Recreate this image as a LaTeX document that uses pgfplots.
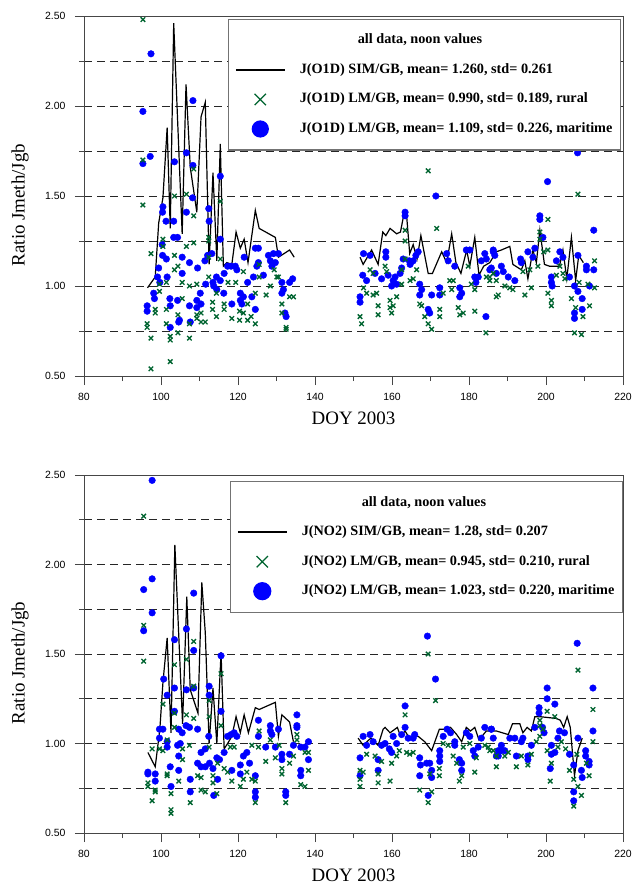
\documentclass[border=0pt]{standalone}
\usepackage{pgfplots}
\pgfplotsset{compat=1.18}
\usepackage{fontspec}
\setmainfont{Liberation Serif}
\setsansfont{Liberation Sans}
\definecolor{rural}{RGB}{0,100,48}
\definecolor{mari}{RGB}{0,0,255}
\definecolor{axgray}{RGB}{70,70,70}

\pgfplotsset{
  myaxis/.style={
    scale only axis, width=539bp,
    xmin=80, xmax=220, ymin=0.5, ymax=2.5,
    xtick={80,100,...,220}, minor xtick={90,110,...,210},
    ytick={0.5,1,...,2.5}, minor ytick={0.75,1.25,...,2.25},
    ymajorgrids, yminorgrids,
    major grid style={black!85, dash pattern=on 8bp off 5bp, line width=0.8bp},
    minor grid style={black!85, dash pattern=on 8bp off 5bp, line width=0.8bp},
    tick align=outside, tick pos=left,
    major tick length=9bp, minor tick length=5bp,
    every tick/.style={axgray, line width=0.8bp},
    axis line style={axgray, line width=0.9bp},
    tick label style={font=\sffamily\fontsize{10.5}{12}\selectfont, /pgf/number format/assume math mode=true},
    xticklabel style={yshift=-5bp},
    y tick label style={xshift=-6bp, /pgf/number format/.cd, fixed, fixed zerofill, precision=2},
    xlabel={DOY 2003}, ylabel={Ratio Jmeth/Jgb},
    every axis y label/.style={at={(axis description cs:-0.1187,0.475)}, rotate=90, anchor=center, font=\fontsize{19}{22}\selectfont},
    every axis x label/.style={at={(axis description cs:0.5,-0.117)}, anchor=center, font=\fontsize{19}{22}\selectfont},
    legend cell align=left,
    legend style={anchor=north east, draw=black!55, line width=1.2bp, fill=white,
      font=\bfseries\fontsize{14.3}{16}\selectfont,
      inner xsep=6bp, inner ysep=12bp, row sep=11.5bp, column sep=12bp,
      nodes={text height=10.5bp, text depth=3.5bp, inner sep=2bp}},
  },
  simline/.style={black, line width=1.2bp, no marks},
  ruralmk/.style={only marks, mark=x, mark size=3.2bp, rural, line width=1.35bp},
  marimk/.style={only marks, mark=*, mark size=3.3bp, mari, mark options={fill=mari, draw=mari}},
  legline/.style={legend image code/.code={\draw[##1] (0bp,0bp) -- (49bp,0bp);}},
  legmark/.style={legend image code/.code={\draw[##1] plot coordinates {(24.5bp,0bp)};}},
}

\begin{document}
\begin{tikzpicture}
%%%%%%%%%%%%%%%%%%%% TOP PANEL: J(O1D)
\begin{axis}[myaxis, height=360bp, at={(0bp,0bp)}, anchor=north west,
  legend style={at={(axis description cs:0.9963,0.992)}}]
\addplot[marimk, forget plot] coordinates {
(95.3,1.97)(97.4,2.29)(95.3,1.68)(97.2,1.72)(108.3,2.03)(106.6,1.74)(103.5,1.69)(108.3,1.67)(115.4,1.61)(100.5,1.44)(100.4,1.41)(101.3,1.36)(103.3,1.36)(106.6,1.41)(108.2,1.49)(112.4,1.43)(112.5,1.36)(115.4,1.26)(103.3,1.27)(104.3,1.27)(105.5,1.16)(100.4,1.17)(101.4,1.15)(107.4,1.13)(109.5,1.10)(111.4,1.14)(112.1,1.17)(113.2,1.18)(99.4,1.10)(99.1,1.05)(99.7,1.02)(101.6,1.05)(105.5,1.07)(98.1,0.96)(98.3,0.93)(96.4,0.89)(96.4,0.86)(102.3,0.93)(104.3,0.92)(102.4,0.89)(107.4,0.89)(109.3,0.92)(110.2,0.96)(109.3,0.88)(110.4,0.90)(111.6,1.01)(113.5,1.02)(114.4,1.05)(115.4,1.03)(116.4,1.07)(117.3,1.11)(118.2,1.11)(119.3,1.11)(119.7,1.09)(120.6,0.96)(121.4,0.94)(122.5,1.02)(123.6,0.94)(120.6,0.92)(121,0.90)(118.4,0.90)(121.6,1.16)(124.9,1.11)(125.3,1.21)(104.6,0.80)(102.4,0.77)(107.6,0.80)(113.7,1.00)(114.5,0.98)(116.3,0.96)(127.9,1.17)(128.4,1.14)(129.2,1.18)(129.7,1.13)(128.8,1.11)(130.5,1.18)(131.4,1.02)(131.8,0.98)(131.4,0.96)(132.2,0.85)(132.5,0.83)(133.4,1.02)(134.2,1.04)(124.5,1.21)(125.3,1.13)(126.6,1.06)(124.0,1.05)(124.5,0.87)(104.8,0.81)(100.3,1.23)
(171.4,1.50)(163.4,1.41)(163.4,1.39)(158.4,1.19)(158.4,1.16)(154.3,1.17)(152.6,1.18)(155.6,1.07)(157.3,1.04)(159.0,1.06)(160.3,1.03)(162.1,1.07)(162.5,1.10)(164.5,1.14)(164.7,1.12)(165.5,1.14)(166.2,1.17)(166.8,1.19)(152.4,1.06)(153.4,1.03)(151.7,0.94)(151.7,0.91)(159.9,1.00)(161.2,1.01)(160.8,1.05)(167.2,1.01)(167.7,0.98)(167.2,0.95)(170.3,0.95)(169.4,0.87)(169.8,0.85)(172.4,0.99)(172.4,0.95)(174.2,1.18)(174.6,1.14)(176.3,1.11)(177.6,0.99)(178.1,0.96)(177.6,0.94)(179.3,1.20)(180.2,1.20)(181.5,1.05)(182.4,1.05)(181.8,1.02)(183.2,1.14)(184.1,1.18)(184.5,1.15)(184.4,0.83)(185.4,1.09)(186.3,1.19)(186.7,1.17)(187.1,1.07)(162.9,1.15)
(200.4,1.58)(212.4,1.31)(198.4,1.39)(198.4,1.37)(199.2,1.27)(186.3,1.20)(185.8,1.10)(188.4,1.11)(188.9,1.08)(190.2,1.05)(191.9,1.03)(193.4,1.15)(193.6,1.13)(195.3,1.19)(197.1,1.21)(196.6,1.16)(201.4,1.05)(201.4,1.02)(201.6,1.00)(202.7,1.14)(203.6,1.19)(204.4,1.16)(206.1,1.05)(207.4,1.00)(208.3,0.97)(209.4,0.93)(208.3,1.17)(210.5,1.11)(210.5,1.09)(212.4,1.09)(207.4,0.85)(207.4,0.82)(209.4,0.87)(211.3,1.00)(208.2,1.74)
};
\addplot[ruralmk, forget plot] coordinates {
(95.3,2.48)(95.3,1.70)(95.3,1.45)(97.4,1.18)(96.4,0.79)(96.4,0.77)(97.4,0.71)(97.4,0.54)(98.5,0.87)(98.5,0.85)(99.6,1.01)(99.6,0.97)(100.5,1.26)(100.5,1.22)(101.4,1.02)(101.4,0.87)(101.4,0.79)(102.4,0.72)(102.4,0.70)(102.4,0.58)(103.5,1.17)(103.5,1.50)(103.5,1.09)(104.4,1.11)(104.4,0.84)(104.4,0.74)(105.5,1.02)(105.5,0.93)(106.6,1.51)(106.6,1.22)(107.4,1.00)(107.4,0.79)(107.4,0.71)(108.5,1.65)(108.5,1.39)(108.5,1.24)(109.3,1.01)(109.3,0.84)(109.3,0.82)(110.4,0.80)(110.4,0.85)(111.5,0.80)(112.4,1.27)(112.4,1.25)(112.4,1.16)(112.4,1.05)(113.4,0.91)(113.4,0.87)(114.4,0.96)(114.4,0.83)(115.4,1.47)(115.4,1.15)(116.4,0.90)(116.4,0.87)(117.4,1.02)(118.4,0.82)(119.4,1.02)(120.4,0.81)(120.4,0.86)(121.4,1.08)(121.4,0.85)(122.5,0.90)(122.5,0.81)(123.4,0.83)(124.5,0.79)(124.5,0.96)(125.5,1.12)(125.5,1.05)(127.3,0.95)(128.4,1.00)(129.4,1.09)(130.1,1.05)(130.5,1.05)(131.4,0.90)(131.4,0.85)(132.5,0.77)(132.5,0.76)(133.4,0.94)(134.4,0.94)
(169.4,1.64)(171.6,1.32)(163.4,1.31)(163.4,1.25)(163.4,1.15)(154.3,1.09)(155.1,1.07)(158.2,1.11)(158.6,1.08)(162.5,1.09)(166.4,1.09)(164.7,1.03)(165.5,1.04)(162.5,1.01)(152.6,0.99)(153.4,0.96)(155.1,0.95)(156.0,0.96)(156.4,0.89)(156.4,0.84)(159.5,0.92)(159.5,0.88)(159.9,0.85)(160.3,0.89)(161.2,0.94)(151.7,0.83)(152.1,0.79)(167.2,0.90)(167.7,0.89)(168.5,0.83)(169.4,0.79)(170.3,0.76)(172.4,0.87)(172.4,0.83)(173.3,0.96)(175.0,1.03)(175.9,1.03)(175.5,0.98)(177.2,0.88)(177.6,0.84)(178.5,0.85)(179.8,1.11)(180.6,1.01)(181.5,0.98)(184.4,0.74)(181.5,0.86)(184.5,1.05)(185.4,1.03)(186.3,1.07)(187.1,0.94)
(208.3,1.51)(200.5,1.37)(198.4,1.30)(198.4,1.26)(199.4,1.19)(200.5,1.20)(212.6,1.14)(212.6,0.99)(202.7,1.06)(203.6,1.11)(204.4,1.07)(204.9,1.04)(200.5,0.96)(201.4,0.92)(201.4,0.89)(206.6,0.93)(207.7,0.88)(209.6,0.83)(211.3,0.89)(207.4,0.74)(209.2,0.73)(185.4,1.05)(187.1,1.03)(189.3,1.00)(190.6,0.99)(187.6,0.95)(191.4,0.98)(194.5,0.95)(196.2,0.99)(195.8,1.09)(194.0,1.08)(197.9,1.11)(208.6,1.02)(210.9,1.01)
};
\addplot[simline, forget plot] coordinates {
(96.5,0.99)(98.5,1.05)(99.4,1.35)(100.5,1.49)(101.6,1.88)(102.4,1.32)(103.3,2.46)(105.5,1.29)(106.5,2.12)(107.6,1.66)(109.3,1.41)(110.4,1.94)(111.5,2.02)(112.5,1.12)(113.5,1.63)(114.5,1.14)(115.4,1.79)(116.2,1.11)(117.1,1.13)(118.4,1.12)(119.5,1.30)(120.6,1.21)(121.6,1.26)(122.6,1.13)(124.5,1.42)(125.5,1.32)(129.7,1.27)(130.5,1.16)(133.4,1.20)(134.6,1.16)
};
\addplot[simline, forget plot] coordinates {
(151.7,1.16)(152.5,1.12)(154.7,1.20)(156.4,1.12)(157.6,1.30)(158.4,1.28)(159.5,1.32)(161.2,1.29)(162.2,1.30)(163.1,1.40)(163.8,1.39)(164.6,1.18)(165.5,1.23)(166.5,1.15)(167.5,1.28)(169.4,1.07)(170.5,1.07)(172.9,1.19)(174.2,1.13)(175.5,1.29)(176.6,1.13)(177.9,1.07)(179.4,1.20)(180.2,1.11)(181.5,1.27)(182.6,1.06)(183.8,1.11)(185.4,1.13)(187.1,1.19)(188.4,1.20)(189.5,1.21)(190.6,1.22)(191.4,1.12)(193.6,1.09)(194.5,1.14)(195.3,1.04)(196.6,1.20)(197.5,1.13)(198.4,1.31)(199.6,1.12)(200.9,1.11)(203.5,1.11)(204.4,1.20)(205.4,1.04)(206.6,1.27)(207.7,1.03)(208.5,1.17)(209.7,1.13)
};
\addlegendimage{empty legend}
\addlegendentry{\hspace*{58bp}all data, noon values}
\addlegendimage{black, line width=2bp, legline}
\addlegendentry{J(O1D) SIM/GB, mean= 1.260, std= 0.261}
\addlegendimage{rural, mark=x, only marks, mark size=8bp, line width=1.2bp, legmark}
\addlegendentry{J(O1D) LM/GB, mean= 0.990, std= 0.189, rural}
\addlegendimage{mari, mark=*, only marks, mark size=8bp, mark options={fill=mari}, legmark}
\addlegendentry{J(O1D) LM/GB, mean= 1.109, std= 0.226, maritime}
\end{axis}
%%%%%%%%%%%%%%%%%%%% BOTTOM PANEL: J(NO2)
\begin{axis}[myaxis, height=358bp, at={(0bp,-459bp)}, anchor=north west,
  legend style={at={(axis description cs:1.0,0.983)}}]
\addplot[marimk, forget plot] coordinates {
(97.7,2.47)(95.5,1.86)(97.7,1.92)(97.7,1.73)(95.5,1.63)(100.7,1.36)(101.6,1.27)(103.5,1.58)(103.5,1.31)(103.5,1.18)(106.6,1.64)(106.6,1.30)(108.5,1.84)(108.5,1.52)(108.5,1.31)(112.5,1.32)(112.5,1.27)(115.6,1.49)(115.6,1.18)(112.4,1.04)(99.6,1.08)(100.5,1.08)(101.6,0.98)(101.6,1.01)(99.6,1.03)(104.6,1.08)(105.5,1.06)(104.3,0.99)(105.0,1.00)(106.5,1.10)(107.4,1.09)(109.5,1.08)(104.6,0.93)(102.4,0.87)(102.6,0.76)(96.6,0.84)(96.6,0.83)(98.5,0.83)(98.5,0.79)(104.6,0.85)(107.6,0.80)(107.6,0.73)(109.5,0.89)(110.4,0.87)(111.5,0.87)(112.6,0.89)(113.5,0.86)(113.7,0.71)(114.7,0.80)(114.5,0.92)(115.2,0.91)(116.4,0.95)(117.3,1.04)(118.2,1.05)(119.0,1.06)(119.7,1.04)(120.6,0.88)(121.4,0.93)(122.3,0.95)(123.0,0.89)(124.5,0.82)(124.5,0.73)(124.5,0.70)(125.3,1.13)(125.3,1.04)(110.4,0.95)(111.5,0.97)(118.4,0.85)(120.6,0.83)
(127.2,0.98)(128.4,1.10)(128.4,1.07)(128.8,1.05)(129.7,0.98)(130.5,1.08)(131.4,0.94)(131.4,0.91)(132.4,0.73)(132.4,0.71)(133.4,0.94)(135.3,1.16)(135.3,1.10)(135.3,1.09)(136.3,0.98)(136.3,0.85)(136.3,0.82)(137.4,0.98)(138.3,1.01)(138.3,0.91)(134.4,0.99)
(169.2,1.60)(171.3,1.36)(163.4,1.21)(163.4,1.09)(152.5,1.04)(151.7,0.92)(151.7,0.82)(154.3,1.05)(155.1,1.01)(156.4,0.91)(156.4,0.85)(157.3,0.99)(158.2,1.00)(159.3,0.97)(159.9,0.95)(161.2,1.00)(162.5,1.05)(164.2,1.03)(165.5,1.03)(165.9,1.05)(167.2,0.92)(167.4,0.88)(167.2,0.82)(169.0,0.89)(169.8,0.89)(170.3,0.85)(170.3,0.81)(169.4,0.71)(172.4,0.96)(172.4,0.93)(172.4,0.90)(173.3,1.04)(174.3,1.08)(175.2,1.06)(176.3,1.01)(176.3,0.99)(177.5,0.91)(178.1,0.89)(178.1,0.85)(179.3,1.06)(180.2,1.04)(181.1,0.96)(181.5,0.93)(182.4,0.98)(183.2,1.03)(184.1,1.09)(185.8,1.08)(187.6,0.96)(187.6,0.93)(153.4,0.99)(160.3,1.04)
(208.1,1.56)(212.2,1.31)(200.3,1.31)(200.3,1.25)(202.3,1.22)(198.2,1.20)(198.2,1.17)(197.1,1.09)(199.1,1.09)(199.5,1.06)(212.2,1.07)(208.3,1.03)(185.8,1.08)(186.3,1.03)(188.4,0.99)(189.3,0.96)(190.6,1.03)(191.9,1.03)(192.3,0.93)(193.6,1.01)(194.0,1.03)(195.3,0.93)(195.3,0.91)(196.2,0.99)(201.4,0.99)(201.4,0.94)(201.1,0.86)(202.3,0.95)(203.1,1.03)(203.5,1.07)(204.8,1.06)(206.1,0.94)(207.2,0.88)(207.2,0.73)(207.2,0.68)(209.2,0.85)(209.4,0.81)(210.3,0.96)(210.3,0.93)(211.2,0.90)(211.2,0.88)(187.1,0.93)(188.4,0.96)
};
\addplot[ruralmk, forget plot] coordinates {
(95.5,2.27)(95.5,1.66)(95.5,1.46)(97.7,0.97)(96.6,0.78)(96.6,0.76)(97.7,0.68)(98.5,0.74)(98.5,0.73)(99.6,0.97)(100.5,1.22)(100.5,0.96)(101.6,1.02)(101.6,0.83)(101.6,0.82)(102.6,0.72)(102.6,0.63)(102.6,0.61)(103.5,1.44)(103.5,1.17)(103.5,1.09)(104.6,0.79)(105.6,0.91)(105.6,0.97)(106.6,1.47)(106.6,1.16)(107.4,0.99)(107.6,0.67)(108.5,1.57)(108.5,1.32)(108.5,1.14)(109.5,0.82)(110.4,0.81)(110.4,0.74)(111.5,0.73)(112.5,1.24)(112.5,1.15)(112.5,0.98)(113.5,0.82)(113.5,0.78)(114.5,0.72)(115.6,1.39)(115.6,1.10)(114.7,0.89)(116.4,0.86)(117.3,0.84)(118.0,0.98)(119.0,0.98)(118.4,0.79)(120.6,0.76)(121.4,0.80)(122.3,0.84)(123.6,0.80)(124.5,0.67)(124.5,0.79)(125.3,0.98)(123.6,0.99)
(125.5,1.07)(127.2,0.90)(128.4,1.02)(129.7,0.92)(130.7,0.99)(131.4,0.83)(131.4,0.86)(132.4,0.67)(133.4,0.89)(134.4,0.93)(135.3,1.05)(135.3,1.02)(136.3,0.77)(137.4,0.76)(137.4,0.95)(138.3,0.95)(138.3,0.85)
(169.4,1.50)(171.3,1.24)(163.4,1.16)(151.7,0.85)(151.7,0.80)(151.7,0.76)(152.5,0.84)(153.4,0.94)(155.6,0.93)(156.4,0.83)(156.4,0.78)(157.3,0.90)(159.5,0.79)(159.9,0.89)(161.2,0.93)(161.9,0.96)(163.8,0.95)(164.6,0.94)(165.5,0.95)(167.2,0.74)(169.4,0.67)(170.3,0.73)(169.8,0.83)(172.3,0.86)(172.3,0.82)(173.3,1.00)(174.6,0.99)(175.9,0.93)(176.8,0.89)(177.5,0.79)(178.1,0.82)(178.5,0.98)(181.5,0.84)(181.9,0.92)(180.2,1.00)(184.1,0.99)(185.0,0.98)(186.3,0.96)(187.1,0.87)
(208.3,1.41)(212.2,1.19)(212.2,1.01)(200.3,1.18)(202.3,1.15)(198.4,1.13)(198.4,1.04)(199.2,1.08)(200.3,0.96)(201.4,0.89)(201.1,0.79)(203.1,0.98)(204.0,1.01)(205.1,0.97)(206.1,0.85)(207.2,0.80)(207.2,0.65)(208.0,0.94)(208.3,0.76)(209.2,0.71)(210.5,0.89)(211.2,0.82)(185.4,0.96)(187.1,0.93)(189.3,0.93)(190.2,0.95)(192.3,0.87)(193.6,0.93)(195.3,0.88)(196.2,0.94)(197.5,1.01)(198.4,1.10)
};
\addplot[simline, forget plot] coordinates {
(96.6,0.95)(98.5,0.87)(99.7,1.08)(100.5,1.34)(101.6,1.59)(102.6,1.06)(103.6,2.11)(105.6,1.11)(106.7,1.82)(107.6,1.30)(109.6,1.17)(110.6,1.90)(111.5,1.62)(112.5,1.00)(113.5,1.31)(114.5,1.00)(115.6,1.51)(116.4,0.97)(117.3,1.00)(118.4,1.04)(119.5,1.15)(120.6,1.06)(121.6,1.16)(122.7,1.06)(124.5,1.20)(125.5,1.19)(129.7,1.23)(130.5,1.04)(131.4,1.16)(133.4,1.12)(134.4,1.01)
};
\addplot[simline, forget plot] coordinates {
(151.2,1.03)(152.5,0.99)(154.5,1.03)(156.4,0.99)(157.7,1.08)(158.2,1.09)(159.5,1.06)(161.4,1.09)(162.2,1.04)(163.4,1.07)(164.5,1.03)(165.5,1.04)(166.8,1.04)(168.5,1.01)(170.3,0.96)(172.3,1.08)(173.5,1.08)(175.2,1.09)(176.8,1.05)(178.1,1.01)(179.3,1.09)(180.4,1.07)(181.5,1.09)(182.6,1.02)(184.5,1.07)(187.1,1.07)(190.2,1.05)(191.3,1.11)(193.2,1.11)(194.0,1.06)(195.1,1.09)(196.2,1.07)(197.1,1.15)(198.4,1.15)(202.7,1.14)(203.7,1.13)(204.6,1.09)(205.5,1.15)(206.3,1.09)(207.4,0.82)(208.3,0.96)(209.4,1.03)
};
\addlegendimage{empty legend}
\addlegendentry{\hspace*{60bp}all data, noon values}
\addlegendimage{black, line width=2bp, legline}
\addlegendentry{J(NO2) SIM/GB, mean= 1.28, std= 0.207}
\addlegendimage{rural, mark=x, only marks, mark size=8bp, line width=1.2bp, legmark}
\addlegendentry{J(NO2) LM/GB, mean= 0.945, std= 0.210, rural}
\addlegendimage{mari, mark=*, only marks, mark size=8.5bp, mark options={fill=mari}, legmark}
\addlegendentry{J(NO2) LM/GB, mean= 1.023, std= 0.220, maritime}
\end{axis}
\pgfresetboundingbox
\path[use as bounding box] (-84bp,16bp) rectangle (549bp,-869bp);
\end{tikzpicture}
\end{document}
